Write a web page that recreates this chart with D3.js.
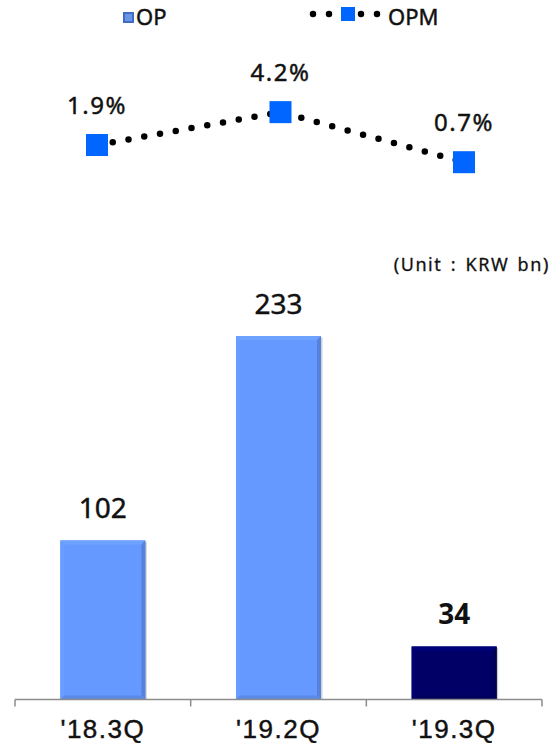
<!DOCTYPE html>
<html>
<head>
<meta charset="utf-8">
<script src="https://cdn.jsdelivr.net/npm/d3@7"></script>
<style>
  html, body { margin: 0; padding: 0; background: #fff; }
  svg { display: block; font-family: "Noto Sans", "DejaVu Sans", sans-serif; }
  text { stroke: #111; stroke-width: 0.45px; paint-order: stroke; }
</style>
</head>
<body>
<svg id="chart" width="553" height="743"></svg>
<script>
// Quarterly operating profit (KRW bn) and operating profit margin (%)
const categories = ["'18.3Q", "'19.2Q", "'19.3Q"];
const opValues = [102, 233, 34];
const opmValues = [1.9, 4.2, 0.7];
const opmLabels = ["1.9%", "4.2%", "0.7%"];
const barColors = ["#6699FF", "#6699FF", "#000066"];
const legendLabels = ["OP", "OPM"];
const unitLabel = "(Unit : KRW bn)";

const svg = d3.select("#chart");

// ---- scales ----
const x = d3.scaleBand().domain(categories).range([15, 542])
  .paddingInner(0.516).paddingOuter(0.258);
const y = d3.scaleLinear().domain([0, 250]).range([699.5, 309.5]);
const xLine = d3.scalePoint().domain(categories).range([97, 464]);
const yLine = d3.scaleLinear().domain([0, 5]).range([172.2, 100.7]);

// ---- bars with a bevelled edge ----
const bev = 4;
function shade(c, k) {
  const col = d3.color(c);
  return k > 0 ? col.brighter(k).formatHex() : col.darker(-k).formatHex();
}
const bars = svg.append("g").selectAll("g").data(opValues).join("g");
bars.each(function(v, i) {
  const g = d3.select(this);
  const x0 = x(categories[i]), w = x.bandwidth();
  const y0 = y(v), y1 = y(0);
  const c = barColors[i];
  // faint shadow on the right
  g.append("rect").attr("x", x0 + 1.5).attr("y", y0 + 1.5).attr("width", w).attr("height", y1 - y0 - 1.5)
    .attr("fill", "#000").attr("opacity", 0.18);
  g.append("rect").attr("x", x0).attr("y", y0).attr("width", w).attr("height", y1 - y0).attr("fill", c);
  const x1 = x0 + w;
  const poly = (pts, fill) => g.append("polygon").attr("points", pts.map(p => p.join(",")).join(" ")).attr("fill", fill);
  poly([[x0, y0], [x1, y0], [x1 - bev, y0 + bev], [x0 + bev, y0 + bev]], shade(c, i === 2 ? 0.5 : 0.18));
  poly([[x0, y0], [x0 + bev, y0 + bev], [x0 + bev, y1 - bev], [x0, y1]], shade(c, i === 2 ? 0.25 : 0.08));
  poly([[x1, y0], [x1, y1], [x1 - bev, y1 - bev], [x1 - bev, y0 + bev]], shade(c, -0.45));
  poly([[x0, y1], [x0 + bev, y1 - bev], [x1 - bev, y1 - bev], [x1, y1]], shade(c, -0.3));
});

// ---- bar value labels ----
svg.append("g").selectAll("text").data(opValues).join("text")
  .attr("x", (d, i) => x(categories[i]) + x.bandwidth() / 2)
  .attr("y", (d, i) => y(d) - 22)
  .attr("text-anchor", "middle")
  .attr("font-size", 28)
  .attr("font-weight", (d, i) => i === 2 ? 700 : 400)
  .style("stroke-width", (d, i) => i === 2 ? "0px" : null)
  .attr("fill", "#111")
  .text(d => d);

// ---- category axis ----
const axisG = svg.append("g").attr("transform", `translate(0,${y(0)})`)
  .call(d3.axisBottom(x).tickSize(0).tickFormat(""));
axisG.select(".domain").remove();
axisG.append("line").attr("x1", 15).attr("x2", 542).attr("y1", 0).attr("y2", 0)
  .attr("stroke", "#8c8c8c").attr("stroke-width", 1.5);
const tickPos = [15].concat(categories.map(c => x(c) + x.bandwidth() / 2 + x.step() / 2));
axisG.selectAll(".sep").data(tickPos).join("line").attr("class", "sep")
  .attr("x1", d => d).attr("x2", d => d).attr("y1", 0).attr("y2", 7)
  .attr("stroke", "#8c8c8c").attr("stroke-width", 1.5);
axisG.selectAll(".cat").data(categories).join("text").attr("class", "cat")
  .attr("x", d => x(d) + x.bandwidth() / 2)
  .attr("y", 38.5)
  .attr("text-anchor", "middle")
  .attr("font-size", 26)
  .attr("letter-spacing", 1.5)
  .attr("fill", "#111")
  .text(d => d);

// ---- unit label ----
svg.append("text").attr("x", 550).attr("y", 271).attr("text-anchor", "end")
  .attr("font-size", 18).attr("letter-spacing", 1.6).attr("word-spacing", 2)
  .attr("fill", "#111").style("stroke-width", "0.3px").text(unitLabel);

// ---- OPM dotted line ----
const line = d3.line().x((d, i) => xLine(categories[i])).y(d => yLine(d)).curve(d3.curveLinear);
svg.append("path").datum(opmValues).attr("d", line)
  .attr("fill", "none").attr("stroke", "#000").attr("stroke-width", 6.5)
  .attr("stroke-linecap", "round").attr("stroke-dasharray", "0 16");
svg.append("g").selectAll("rect").data(opmValues).join("rect")
  .attr("x", (d, i) => xLine(categories[i]) - 11)
  .attr("y", d => yLine(d) - 11)
  .attr("width", 22).attr("height", 22)
  .attr("fill", "#0066FF");
svg.append("g").selectAll("text").data(opmValues).join("text")
  .attr("x", (d, i) => xLine(categories[i]))
  .attr("y", d => yLine(d) - 31)
  .attr("text-anchor", "middle")
  .attr("font-size", 24)
  .attr("letter-spacing", 1.5)
  .attr("fill", "#111")
  .text((d, i) => opmLabels[i]);

// ---- legend ----
const leg = svg.append("g");
leg.append("rect").attr("x", 123).attr("y", 12).attr("width", 11).attr("height", 11).attr("fill", "#3F6CC4");
leg.append("rect").attr("x", 125).attr("y", 14).attr("width", 7).attr("height", 7).attr("fill", "#6A95E6");
leg.append("text").attr("x", 136).attr("y", 25).attr("font-size", 22).attr("fill", "#111").text(legendLabels[0]);
leg.append("line").attr("x1", 313).attr("x2", 379).attr("y1", 14).attr("y2", 14)
  .attr("stroke", "#000").attr("stroke-width", 6.5).attr("stroke-linecap", "round")
  .attr("stroke-dasharray", "0 16");
leg.append("rect").attr("x", 341).attr("y", 7).attr("width", 14).attr("height", 14).attr("fill", "#0066FF");
leg.append("text").attr("x", 388).attr("y", 25).attr("font-size", 22).attr("fill", "#111").text(legendLabels[1]);
</script>
</body>
</html>
